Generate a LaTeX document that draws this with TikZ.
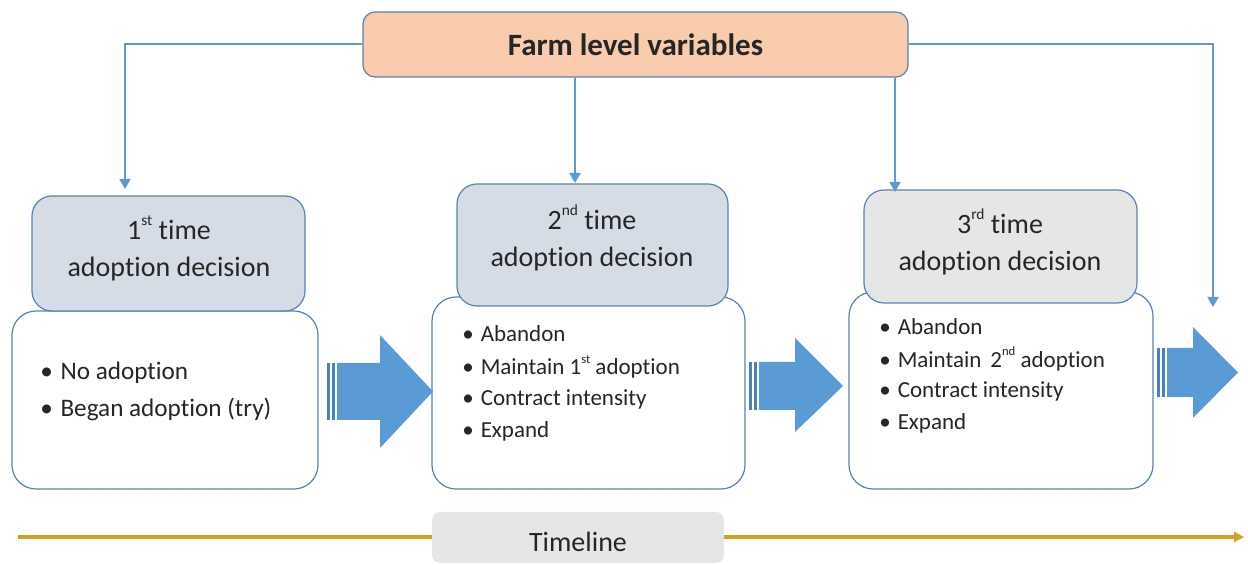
\documentclass[tikz,border=0pt]{standalone}
\usepackage{fontspec}
\setmainfont{Carlito}[Ligatures=NoCommon]
\usetikzlibrary{arrows.meta}
\definecolor{lineblue}{HTML}{5B9BD5}
\definecolor{edgeblue}{HTML}{5683B5}
\definecolor{stripeblue}{HTML}{4A82BE}
\definecolor{peach}{HTML}{F8CBAD}
\definecolor{headblue}{HTML}{D6DCE5}
\definecolor{headgray}{HTML}{E7E6E6}
\definecolor{gold}{HTML}{CFA026}
\definecolor{ink}{HTML}{262626}
\tikzset{
  body/.style={draw=edgeblue, line width=0.6pt, fill=white, rounded corners=12pt, inner sep=0pt},
  head/.style={draw=edgeblue, line width=0.6pt, rounded corners=10pt, inner sep=0pt},
  headtext/.style={align=center, text=ink, font=\fontsize{14}{18.5}\selectfont, inner sep=0pt},
  item/.style={anchor=west, text=ink, inner sep=0pt},
  itemA/.style={item, font=\fontsize{12.6}{15}\selectfont},
  itemB/.style={item, font=\fontsize{11.5}{14}\selectfont},
  conn/.style={draw=lineblue, line width=1pt, -{Triangle[length=5pt,width=5.5pt]}},
  bigarrow/.style={fill=lineblue},
  stripe/.style={fill=stripeblue},
}
\newcommand{\bul}{\textbullet\hspace{0.3em}}
\newcommand{\ordsup}[1]{\raisebox{0.5em}{\fontsize{0.55em}{0.6em}\selectfont #1}}
\begin{document}
\begin{tikzpicture}[x=0.5pt, y=-0.5pt]
\useasboundingbox (0,0) rectangle (1248,565);

% timeline axis
\coordinate (tl0) at (18,537);
\coordinate (tl1) at (1244,537);
\draw[gold, line width=1.6pt, -{Triangle[length=5pt,width=5pt]}] (tl0) -- (tl1);
\node[fill=headgray, rounded corners=4pt, minimum width=146pt, minimum height=25.5pt] (timeline) at (578,537.5) {};
\node[text=ink, font=\fontsize{14}{16}\selectfont, inner sep=0pt] (timelinetext) at (578,542) {Timeline};

% top box
\node[draw=edgeblue, line width=0.6pt, fill=peach, rounded corners=6pt,
      minimum width=272.5pt, minimum height=32.5pt, text=ink,
      font=\fontsize{15.5}{18}\selectfont\bfseries] (farm) at (635.5,44.5) {Farm level variables};

% bodies
\node[body, minimum width=153pt, minimum height=89pt] (b1) at (165,400) {};
\node[body, minimum width=156.5pt, minimum height=96pt] (b2) at (588.5,393) {};
\node[body, minimum width=152pt, minimum height=98.5pt] (b3) at (1001,390.5) {};

% headers
\node[head, fill=headblue, minimum width=136.5pt, minimum height=57.5pt] (h1) at (168.5,253.5) {};
\node[head, fill=headblue, minimum width=135.5pt, minimum height=61pt] (h2) at (592.5,245) {};
\node[head, fill=headgray, minimum width=136.5pt, minimum height=56.5pt] (h3) at (1000.5,246.5) {};
\node[headtext] (h1t) at (169,248) {1\ordsup{st} time\\adoption decision};
\node[headtext] (h2t) at (592,238) {2\ordsup{nd} time\\adoption decision};
\node[headtext] (h3t) at (1000,242) {3\ordsup{rd} time\\adoption decision};

% items
\node[itemA] (a1) at (40,373) {\bul No adoption};
\node[itemA] (a2) at (40,409) {\bul Began adoption (try)};

\node[itemB] (c1) at (462,334) {\bul Abandon};
\node[itemB] (c2) at (462,367) {\bul Maintain 1\ordsup{st} adoption};
\node[itemB] (c3) at (462,399) {\bul Contract intensity};
\node[itemB] (c4) at (462,431) {\bul Expand};

\node[itemB] (d1) at (879,327) {\bul Abandon};
\node[itemB] (d2) at (879,359) {\bul Maintain\, 2\ordsup{nd} adoption};
\node[itemB] (d3) at (879,391) {\bul Contract intensity};
\node[itemB] (d4) at (879,423) {\bul Expand};

% block arrows
\fill[stripe] (327,363) rectangle (330,420);
\fill[stripe] (332,363) rectangle (335,420);
\fill[bigarrow] (337,363) -- (380,363) -- (380,335) -- (433,391.5) -- (380,448) -- (380,420) -- (337,420) -- cycle;

\fill[stripe] (749,362) rectangle (752,410);
\fill[stripe] (754,362) rectangle (757,410);
\fill[bigarrow] (759,362) -- (795,362) -- (795,338) -- (843,386) -- (795,432) -- (795,410) -- (759,410) -- cycle;

\fill[stripe] (1157,348) rectangle (1160,397);
\fill[stripe] (1162,348) rectangle (1165,397);
\fill[bigarrow] (1167,348) -- (1193,348) -- (1193,327) -- (1238,372.5) -- (1193,418) -- (1193,397) -- (1167,397) -- cycle;

% connectors from the top box
\coordinate (t1) at (125,189);
\coordinate (t2) at (575,183);
\coordinate (t3) at (895,192);
\coordinate (t4) at (1213,307);
\draw[conn] (farm.west) -| (t1);
\draw[conn] (farm.south -| t2) -- (t2);
\draw[conn] (farm.south -| t3) -- (t3);
\draw[conn] (farm.east) -| (t4);
\end{tikzpicture}
\end{document}
